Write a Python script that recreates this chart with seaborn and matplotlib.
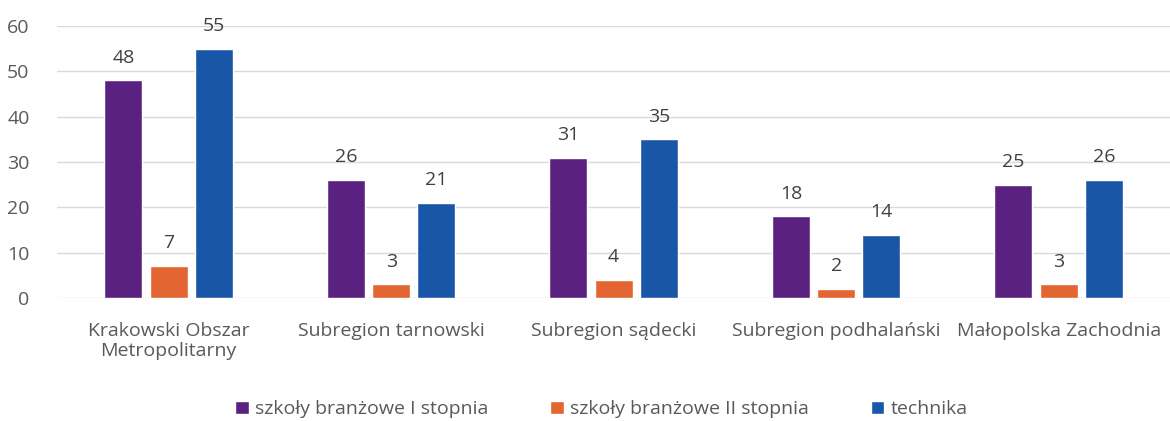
import pandas as pd
import numpy as np
import seaborn as sns
import matplotlib.pyplot as plt

regiony = ['Krakowski Obszar\nMetropolitarny', 'Subregion tarnowski', 'Subregion sądecki',
           'Subregion podhalański', 'Małopolska Zachodnia']
serie = ['szkoły branżowe I stopnia', 'szkoły branżowe II stopnia', 'technika']
branzowe_1 = [48, 26, 31, 18, 25]
branzowe_2 = [7, 3, 4, 2, 3]
technika = [55, 21, 35, 14, 26]

kolory = ['#5B2180', '#E36531', '#1A56A8']

df = pd.DataFrame({
    'region': regiony * 3,
    'typ': [serie[0]] * 5 + [serie[1]] * 5 + [serie[2]] * 5,
    'liczba': branzowe_1 + branzowe_2 + technika,
})

sns.set_theme(style='white')
plt.rcParams['font.family'] = ['Open Sans', 'DejaVu Sans']

fig = plt.figure(figsize=(11.7, 4.21), dpi=100)
ax = fig.add_axes([0.049, 0.292, 0.951, 0.646])

sns.barplot(data=df, x='region', y='liczba', hue='typ', palette=kolory,
            width=0.61, gap=0.16, ax=ax, saturation=1, legend=True)

for c in ax.containers:
    ax.bar_label(c, padding=10, fontsize=14, color='#404040')

ax.set_ylim(0, 60)
ax.set_yticks(range(0, 61, 10))
ax.yaxis.grid(True, color='#D9D9D9', linewidth=1)
ax.set_axisbelow(True)
for s in ax.spines.values():
    s.set_visible(False)
ax.set_xlabel('')
ax.set_ylabel('')
ax.tick_params(axis='both', labelsize=14, colors='#595959', length=0)
ax.tick_params(axis='x', pad=17)
ax.tick_params(axis='y', pad=20)

h, l = ax.get_legend_handles_labels()
ax.get_legend().remove()
fig.legend(h, l, loc='center', bbox_to_anchor=(0.514, 0.028), ncol=3, frameon=False,
           fontsize=14, handlelength=0.7, handleheight=0.7, handletextpad=0.3,
           columnspacing=3.2, labelcolor='#595959')

fig.savefig('out.png', dpi=100)
